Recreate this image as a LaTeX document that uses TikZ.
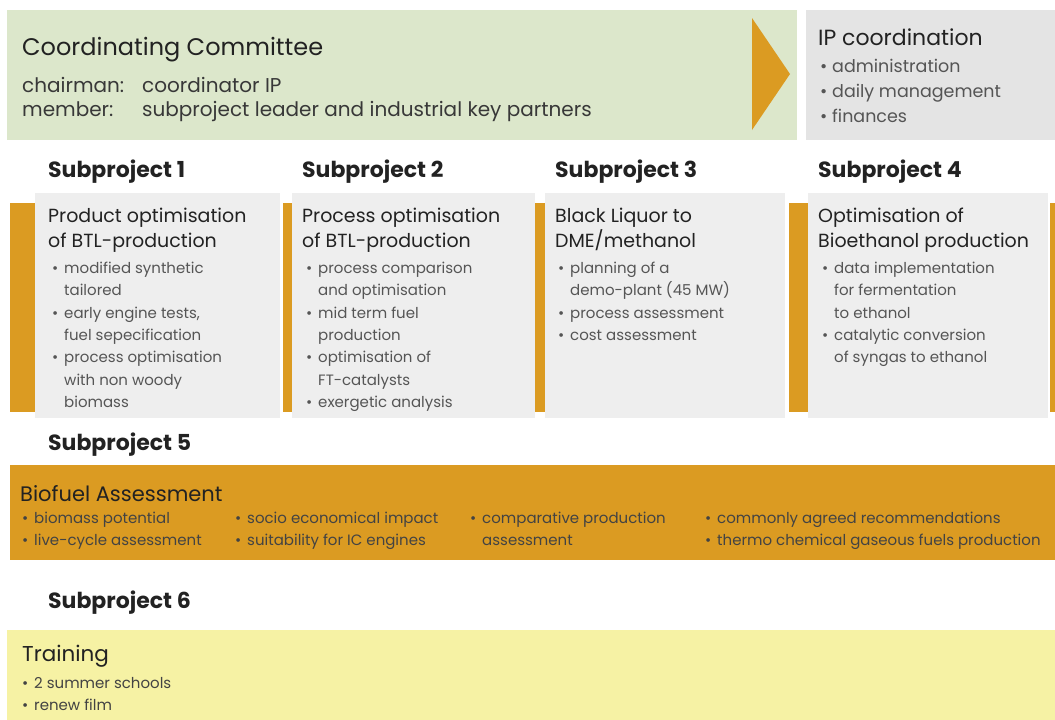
\documentclass[tikz,border=0pt]{standalone}
\usepackage{fontspec}
\setmainfont{Poppins}
\usepackage{xcolor}
\usepackage{tikz}
\usetikzlibrary{positioning}
\definecolor{Ink}{HTML}{222222}
\definecolor{Body}{HTML}{555555}
\definecolor{Sage}{HTML}{DCE7CB}
\definecolor{Stone}{HTML}{E4E4E4}
\definecolor{Paper}{HTML}{EEEEEE}
\definecolor{Ochre}{HTML}{DB9B22}
\definecolor{Lemon}{HTML}{F6F2A4}
\newcommand{\itm}{\makebox[12pt][l]{\textbullet}}
\newcommand{\cont}{\hspace*{12pt}}
\tikzset{
  panel/.style={fill=#1, draw=none, anchor=north west, inner sep=0pt},
  bar/.style={fill=Ochre, draw=none, anchor=north west, inner sep=0pt, minimum height=209pt},
  head/.style={anchor=west, text=Ink, inner sep=0pt, font=\fontsize{22}{24}\selectfont\bfseries},
  title/.style={anchor=north west, align=left, text=Ink, inner sep=0pt, font=\fontsize{19}{25}\selectfont},
  items/.style={anchor=north west, align=left, text=Body, inner sep=0pt, font=\fontsize{15}{22.3}\selectfont}
}

\begin{document}
\begin{tikzpicture}[x=1pt, y=-1pt]
  \useasboundingbox (0,0) rectangle (1055,720);

  % top row
  \node[panel=Sage, minimum width=790pt, minimum height=130pt] (cc) at (7,10) {};
  \node[panel=Stone, minimum width=249pt, minimum height=130pt] (ip) at (806,10) {};
  \fill[Ochre] (752,18) -- (790,74) -- (752,130) -- cycle;
  \node[anchor=north west, text=Ink, inner sep=0pt, font=\fontsize{24}{26}\selectfont] (cctitle) at (22,37) {Coordinating Committee};
  \node[anchor=north west, align=left, text=Ink!90, inner sep=0pt, font=\fontsize{20}{24}\selectfont] (ccrows) at (22,77)
    {\makebox[120pt][l]{chairman:}coordinator IP\\\makebox[120pt][l]{member:}subproject leader and industrial key partners};
  \node[anchor=north west, text=Ink, inner sep=0pt, font=\fontsize{22}{24}\selectfont] (iptitle) at (818,29) {IP coordination};
  \node[anchor=north west, align=left, text=Body, inner sep=0pt, font=\fontsize{17.5}{25}\selectfont] (ipitems) at (820,59)
    {\itm administration\\\itm daily management\\\itm finances};

  % subprojects 1-4
  \node[panel=Paper, minimum width=245pt, minimum height=225pt] (sp1) at (35,193) {};
  \node[panel=Paper, minimum width=243pt, minimum height=225pt] (sp2) at (292,193) {};
  \node[panel=Paper, minimum width=240pt, minimum height=225pt] (sp3) at (545,193) {};
  \node[panel=Paper, minimum width=240pt, minimum height=225pt] (sp4) at (808,193) {};
  \node[bar, minimum width=25pt] (bar1) at (10,203) {};
  \node[bar, minimum width=9pt] (bar2) at (283,203) {};
  \node[bar, minimum width=10pt] (bar3) at (535,203) {};
  \node[bar, minimum width=19pt] (bar4) at (789,203) {};
  \node[bar, minimum width=5pt] (bar5) at (1050,203) {};

  \node[head] (h1) at (48,172) {Subproject 1};
  \node[head] (h2) at (302,172) {Subproject 2};
  \node[head] (h3) at (555,172) {Subproject 3};
  \node[head] (h4) at (818,172) {Subproject 4};

  \node[title] (t1) at (48,208) {Product optimisation\\of BTL-production};
  \node[title] (t2) at (302,208) {Process optimisation\\of BTL-production};
  \node[title] (t3) at (555,208) {Black Liquor to\\DME/methanol};
  \node[title] (t4) at (818,208) {Optimisation of\\Bioethanol production};

  \node[items] (i1) at (52,262) {\itm modified synthetic\\\cont tailored\\\itm early engine tests,\\\cont fuel sepecification\\\itm process optimisation\\\cont with non woody\\\cont biomass};
  \node[items] (i2) at (306,262) {\itm process comparison\\\cont and optimisation\\\itm mid term fuel\\\cont production\\\itm optimisation of\\\cont FT-catalysts\\\itm exergetic analysis};
  \node[items] (i3) at (558,262) {\itm planning of a\\\cont demo-plant (45 MW)\\\itm process assessment\\\itm cost assessment};
  \node[items] (i4) at (822,262) {\itm data implementation\\\cont for fermentation\\\cont to ethanol\\\itm catalytic conversion\\\cont of syngas to ethanol};

  % subproject 5
  \node[head] (h5) at (48,445) {Subproject 5};
  \node[panel=Ochre, minimum width=1045pt, minimum height=95pt] (sp5) at (10,465) {};
  \node[anchor=north west, text=Ink, inner sep=0pt, font=\fontsize{21}{24}\selectfont] (t5) at (20,485) {Biofuel Assessment};
  \node[items, text=Ink!85, font=\fontsize{15}{22}\selectfont] (i5a) at (22,512) {\itm biomass potential\\\itm live-cycle assessment};
  \node[items, text=Ink!85, font=\fontsize{15}{22}\selectfont] (i5b) at (235,512) {\itm socio economical impact\\\itm suitability for IC engines};
  \node[items, text=Ink!85, font=\fontsize{15}{22}\selectfont] (i5c) at (470,512) {\itm comparative production\\\cont assessment};
  \node[items, text=Ink!85, font=\fontsize{15}{22}\selectfont] (i5d) at (705,512) {\itm commonly agreed recommendations\\\itm thermo chemical gaseous fuels production};

  % subproject 6
  \node[head] (h6) at (48,603) {Subproject 6};
  \node[panel=Lemon, minimum width=1048pt, minimum height=90pt] (sp6) at (7,630) {};
  \node[anchor=north west, text=Ink, inner sep=0pt, font=\fontsize{21.5}{24}\selectfont] (t6) at (22,645) {Training};
  \node[items, text=Ink!85, font=\fontsize{15}{22}\selectfont] (i6) at (22,677) {\itm 2 summer schools\\\itm renew film};
\end{tikzpicture}
\end{document}
